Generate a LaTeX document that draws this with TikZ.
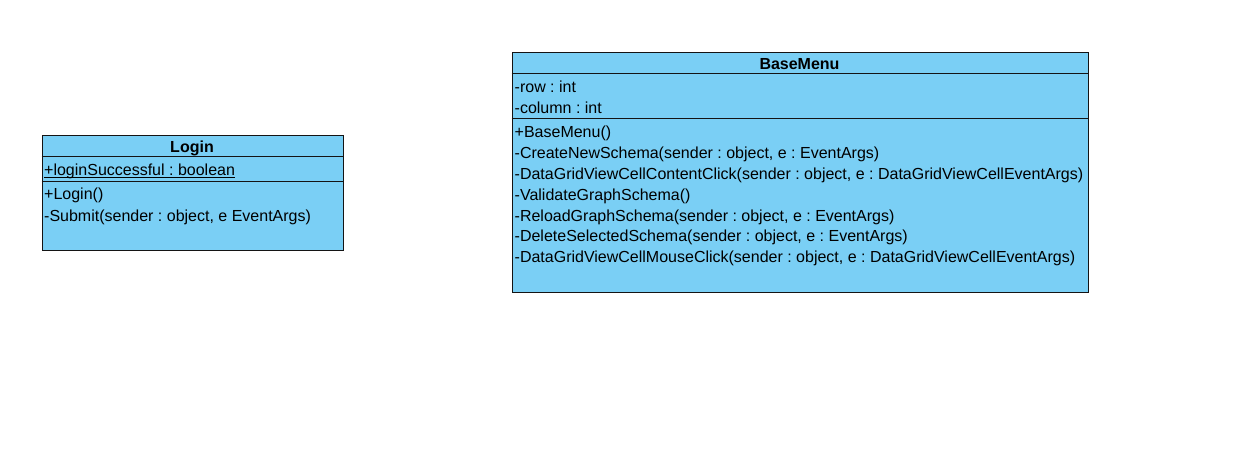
\documentclass[tikz,border=0pt]{standalone}
\usepackage{fontspec}
\setmainfont{Liberation Sans}
\frenchspacing
\definecolor{classfill}{RGB}{122,207,245}
\definecolor{classline}{RGB}{20,20,20}
\tikzset{
  classbox/.style={draw=classline, fill=classfill, line width=1pt, inner sep=0pt},
  divider/.style={draw=classline, line width=1pt},
  member/.style={inner sep=0pt, anchor=base west, font=\fontsize{16}{19}\selectfont\frenchspacing, text=black},
  classtitle/.style={inner sep=0pt, anchor=base, font=\fontsize{16}{19}\selectfont\bfseries, text=black},
}
\begin{document}
\begin{tikzpicture}[x=1pt,y=-1pt]
\useasboundingbox (0,0) rectangle (1257,449);
\fill[white] (0,0) rectangle (1257,449);

% Login class
\node[classbox, minimum width=301pt, minimum height=114pt, anchor=north west] (login) at (41.5,135.5) {};
\draw[divider] (login.west |- 0,157) -- (login.east |- 0,157);
\draw[divider] (login.west |- 0,181.5) -- (login.east |- 0,181.5);
\node[classtitle] (logintitle) at (192,153) {Login};
\node[member] (loginattr) at (44,175.5) {+loginSuccessful : boolean};
\draw[line width=0.8pt] ([yshift=-1.8pt]loginattr.base west) -- ([yshift=-1.8pt]loginattr.base east);
\node[member] (loginop1) at (44,200) {+Login()};
\node[member] (loginop2) at (44,221) {-Submit(sender : object, e EventArgs)};

% BaseMenu class
\node[classbox, minimum width=576pt, minimum height=239pt, anchor=north west] (menu) at (511.5,52.5) {};
\draw[divider] (menu.west |- 0,73.5) -- (menu.east |- 0,73.5);
\draw[divider] (menu.west |- 0,118.5) -- (menu.east |- 0,118.5);
\node[classtitle] (menutitle) at (799.5,70) {BaseMenu};
\node[member] (menuattr1) at (514.5,93) {-row : int};
\node[member] (menuattr2) at (514.5,114) {-column : int};
\node[member] (menuop1) at (514.5,138) {+BaseMenu()};
\node[member] (menuop2) at (514.5,158.75) {-CreateNewSchema(sender : object, e : EventArgs)};
\node[member] (menuop3) at (514.5,179.5) {-DataGridViewCellContentClick(sender : object, e : DataGridViewCellEventArgs)};
\node[member] (menuop4) at (514.5,200.25) {-ValidateGraphSchema()};
\node[member] (menuop5) at (514.5,221) {-ReloadGraphSchema(sender : object, e : EventArgs)};
\node[member] (menuop6) at (514.5,241.75) {-DeleteSelectedSchema(sender : object, e : EventArgs)};
\node[member] (menuop7) at (514.5,262.5) {-DataGridViewCellMouseClick(sender : object, e : DataGridViewCellEventArgs)};
\end{tikzpicture}
\end{document}
